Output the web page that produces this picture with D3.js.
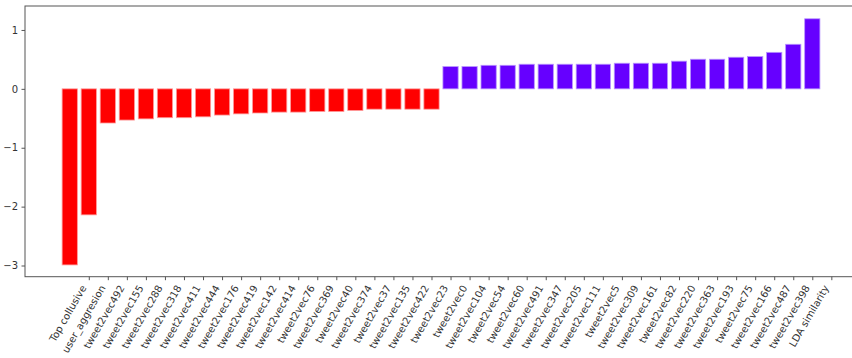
<!DOCTYPE html>
<html><head><meta charset="utf-8">
<script src="https://cdn.jsdelivr.net/npm/d3@7"></script>
<style>
html,body{margin:0;padding:0;background:#fff;}
svg{display:block;overflow:hidden;}
text{font-family:"DejaVu Sans",sans-serif;}
</style></head><body>
<svg id="c" width="852" height="358"></svg>
<script>
const labels = ["Top collusive","user_aggresion","tweet2vec492","tweet2vec155","tweet2vec288","tweet2vec318","tweet2vec411","tweet2vec444","tweet2vec176","tweet2vec419","tweet2vec142","tweet2vec414","tweet2vec76","tweet2vec369","tweet2vec40","tweet2vec374","tweet2vec37","tweet2vec135","tweet2vec422","tweet2vec23","tweet2vec0","tweet2vec104","tweet2vec54","tweet2vec60","tweet2vec491","tweet2vec347","tweet2vec205","tweet2vec111","tweet2vec5","tweet2vec309","tweet2vec161","tweet2vec82","tweet2vec220","tweet2vec363","tweet2vec193","tweet2vec75","tweet2vec166","tweet2vec487","tweet2vec398","LDA similarity"];
const negValues = [-2.99,-2.14,-0.58,-0.53,-0.51,-0.49,-0.49,-0.475,-0.445,-0.425,-0.41,-0.395,-0.395,-0.385,-0.385,-0.367,-0.345,-0.345,-0.345,-0.345];
const posValues = [0.378,0.378,0.40,0.40,0.418,0.418,0.418,0.418,0.418,0.435,0.435,0.435,0.47,0.503,0.503,0.537,0.548,0.62,0.757,1.19];
const yTicks = [-3,-2,-1,0,1];

const values = negValues.concat(posValues);
const data = values.map((v,i)=>({i, v, neg: v<0}));

const svg = d3.select("#c");
const L = 25, R = 857.8, T = 6, B = 276.7;
const x = d3.scaleLinear().domain([-2.35, 41.39]).range([L, R]);
const y = d3.scaleLinear().domain([-3.19, 1.407]).range([B, T]);
const bw = x(0.8) - x(0);

svg.append("g").selectAll("rect").data(data).enter().append("rect")
  .attr("x", d => x(d.i) - bw/2)
  .attr("width", bw)
  .attr("y", d => y(Math.max(0, d.v)))
  .attr("height", d => Math.abs(y(d.v) - y(0)))
  .attr("fill", d => d.neg ? "#ff0000" : "#6600ff")
  .attr("stroke", d => d.neg ? "#ff9a9a" : "#b894ff")
  .attr("stroke-width", 0.8);

// spines
const sp = svg.append("g").attr("stroke", "#555").attr("stroke-width", 1).attr("fill","none");
sp.append("rect").attr("x", L).attr("y", T).attr("width", R - L).attr("height", B - T);

// y axis
const ya = svg.append("g").attr("transform", `translate(${L},0)`)
  .call(d3.axisLeft(y).tickValues(yTicks).tickSize(3.5).tickPadding(3.5)
    .tickFormat(d => String(d).replace("-", "\u2212")));
ya.select(".domain").remove();
ya.selectAll("line").attr("stroke", "#555");
ya.selectAll("text").attr("font-size", 10).attr("fill", "#333").attr("font-family", "DejaVu Sans");

// x axis: ticks at positions 1..40
const xa = svg.append("g").attr("transform", `translate(0,${B})`)
  .call(d3.axisBottom(x).tickValues(d3.range(1, labels.length + 1)).tickSize(3.5)
    .tickFormat(d => labels[d - 1]));
xa.select(".domain").remove();
xa.selectAll("line").attr("stroke", "#555");
xa.selectAll("text")
  .attr("font-size", 10).attr("fill", "#333").attr("font-family", "DejaVu Sans")
  .attr("text-anchor", "end")
  .attr("dy", null).attr("y", null)
  .attr("transform", "translate(-2.5,11) rotate(-60)");
</script>
</body></html>
